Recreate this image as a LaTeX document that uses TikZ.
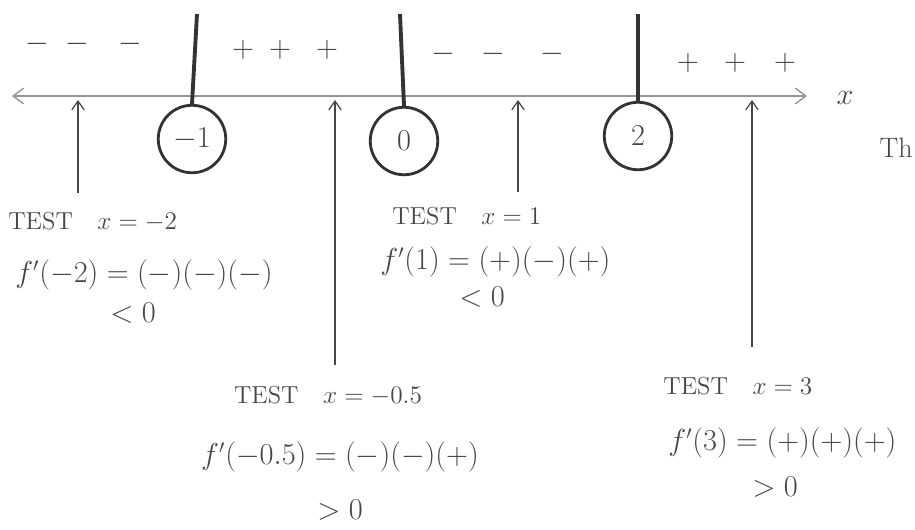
\documentclass[tikz,border=0pt]{standalone}
\usetikzlibrary{arrows.meta, positioning}
\usepackage{amsmath}
\definecolor{pencil}{RGB}{70,70,70}
\definecolor{lightpencil}{RGB}{150,150,150}
\tikzset{
  crit/.style     = {circle, draw=black!80, line width=1.6pt, minimum size=1.35cm,
                     inner sep=0pt, text=pencil, font=\fontsize{17}{18}\selectfont},
  sep/.style      = {draw=black!80, line width=2.2pt},
  axisline/.style = {<->, >={Straight Barb[length=6pt, width=9pt]}, draw=lightpencil, line width=0.8pt},
  arrow/.style    = {->, >={Straight Barb[length=5pt, width=7pt]}, draw=pencil, line width=0.7pt},
  lbl/.style      = {font=\fontsize{14}{16}\selectfont, text=pencil, inner sep=0pt},
  eqn/.style      = {font=\fontsize{16}{18}\selectfont, text=pencil, inner sep=0pt},
  sgn/.style      = {font=\fontsize{16}{16}\selectfont, text=pencil, inner sep=0pt},
}

\begin{document}
\begin{tikzpicture}[x=0.02cm, y=-0.02cm]
  \useasboundingbox (0,0) rectangle (915,529);
  % number line
  \coordinate (axL) at (12,96);
  \coordinate (axR) at (807,96);
  \draw[axisline] (axL) -- (axR);
  \node[lbl, font=\fontsize{17}{18}\selectfont] (xlab) at (845,98) {$x$};
  % critical points
  \node[crit] (cm1) at (192,139) {$-1$};
  \node[crit] (c0) at (404,141) {$0$};
  \node[crit] (c2) at (638,136) {$2$};
  \foreach \c/\x in {cm1/197, c0/400, c2/638} {
    \coordinate (top-\c) at (\x,14);
    \draw[sep] (top-\c) -- (\c.north);
  }
  % signs of f'
  \foreach \x/\y/\s [count=\i] in {37/44/-, 77/44/-, 130/44/-, 243/50/+, 280/50/+, 327/50/+,
                                   443/54/-, 493/54/-, 552/54/-, 688/63/+, 735/63/+, 785/63/+}
    \node[sgn] (sg\i) at (\x,\y) {$\s$};
  % test points
  \foreach \n/\x/\y in {tm2/78/193, tm05/335/365, t1/518/192, t3/752/347} {
    \coordinate (\n-foot) at (\x,\y);
    \coordinate (\n-tip) at (\x,100);
    \draw[arrow] (\n-foot) -- (\n-tip);
  }
  \node[lbl, anchor=west] (test-m2) at (8,222) {TEST\quad$x=-2$};
  \node[eqn, anchor=west] (fp-m2) at (15,275) {$f'(-2)=(-)(-)(-)$};
  \node[eqn] (sg-m2) at (133,313) {$<0$};
  \node[lbl, anchor=west] (test-1) at (392,216) {TEST\quad$x=1$};
  \node[eqn, anchor=west] (fp-1) at (380,262) {$f'(1)=(+)(-)(+)$};
  \node[eqn] (sg-1) at (482,297) {$<0$};
  \node[lbl] (test-m05) at (328,396) {TEST\quad$x=-0.5$};
  \node[eqn] (fp-m05) at (340,457) {$f'(-0.5)=(-)(-)(+)$};
  \node[eqn] (sg-m05) at (340,510) {$>0$};
  \node[lbl, anchor=west] (test-3) at (663,386) {TEST\quad$x=3$};
  \node[eqn, anchor=west] (fp-3) at (668,443) {$f'(3)=(+)(+)(+)$};
  \node[eqn] (sg-3) at (775,487) {$>0$};
  \node[lbl, font=\fontsize{16}{18}\selectfont, anchor=east] (th) at (913,148) {Th};
\end{tikzpicture}
\end{document}
